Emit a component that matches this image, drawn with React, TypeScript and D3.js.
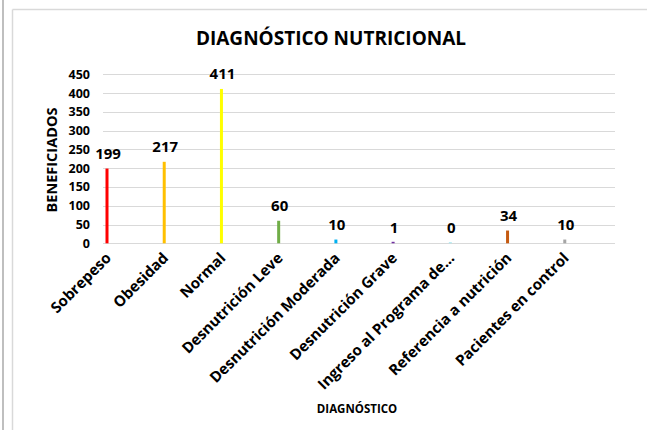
import React from "react";
import * as d3 from "d3";

const categories = [
  "Sobrepeso",
  "Obesidad",
  "Normal",
  "Desnutrición Leve",
  "Desnutrición Moderada",
  "Desnutrición Grave",
  "Ingreso al Programa de...",
  "Referencia a nutrición",
  "Pacientes en control",
];
const values = [199, 217, 411, 60, 10, 1, 0, 34, 10];
const colors = [
  "#ff0000",
  "#ffc000",
  "#ffff00",
  "#70ad47",
  "#00b0f0",
  "#7030a0",
  "#9fe6f0",
  "#c55a11",
  "#a5a5a5",
];
const yTicks = [0, 50, 100, 150, 200, 250, 300, 350, 400, 450];

const W = 647;
const H = 430;
const FONT = "'Open Sans', 'DejaVu Sans', sans-serif";

export default function App() {
  const plotLeft = 103;
  const plotRight = 615;
  const y = d3.scaleLinear().domain([0, 450]).range([243.3, 74.3]);
  const x = d3.scaleBand<string>().domain(categories).range([103, 618]).padding(0);
  const barW = 3;
  const barOffset = 4;

  return (
    <svg
      width={W}
      height={H}
      style={{ position: "absolute", left: 0, top: 0, background: "#fff" }}
      fontFamily={FONT}
    >
      <rect x={0} y={0} width={W} height={H} fill="#fff" />
      <line x1={3} x2={3} y1={0} y2={H} stroke="#bfbfbf" strokeWidth={2} />
      <line x1={12.5} x2={12.5} y1={9.5} y2={H} stroke="#d9d9d9" strokeWidth={1.5} />
      <line x1={12.5} x2={W} y1={9.5} y2={9.5} stroke="#d9d9d9" strokeWidth={1.5} />

      <text x={331} y={45} textAnchor="middle" fontSize={19} fontWeight="bold" fill="#000">
        DIAGNÓSTICO NUTRICIONAL
      </text>

      {yTicks.map((t) => (
        <g key={t}>
          <line
            x1={plotLeft}
            x2={plotRight}
            y1={Math.round(y(t)) + 0.5}
            y2={Math.round(y(t)) + 0.5}
            stroke="#d9d9d9"
            strokeWidth={1}
          />
          <text x={90} y={y(t) + 4.5} textAnchor="end" fontSize={12.5} fontWeight="bold" fill="#000">
            {t}
          </text>
        </g>
      ))}

      <text
        transform="translate(57,160) rotate(-90)"
        textAnchor="middle"
        fontSize={14.5}
        fontWeight="bold"
        fill="#000"
      >
        BENEFICIADOS
      </text>

      {categories.map((c, i) => {
        const bx = (x(c) as number) + barOffset;
        const top = y(values[i]);
        const h = Math.max(y(0) - top, values[i] > 0 ? 1.5 : 1);
        return (
          <g key={c}>
            <rect x={bx - barW / 2} y={y(0) - h} width={barW} height={h} fill={colors[i]} />
            <text
              x={bx + 1}
              y={top - 10}
              textAnchor="middle"
              fontSize={15}
              fontWeight="bold"
              fill="#000"
            >
              {values[i]}
            </text>
            <text
              transform={`translate(${bx + 5},${259}) rotate(-45)`}
              textAnchor="end"
              fontSize={15}
              fontWeight="bold"
              fill="#000"
            >
              {c}
            </text>
          </g>
        );
      })}

      <text x={357} y={413} textAnchor="middle" fontSize={11.5} fontWeight="bold" fill="#000">
        DIAGNÓSTICO
      </text>
    </svg>
  );
}
